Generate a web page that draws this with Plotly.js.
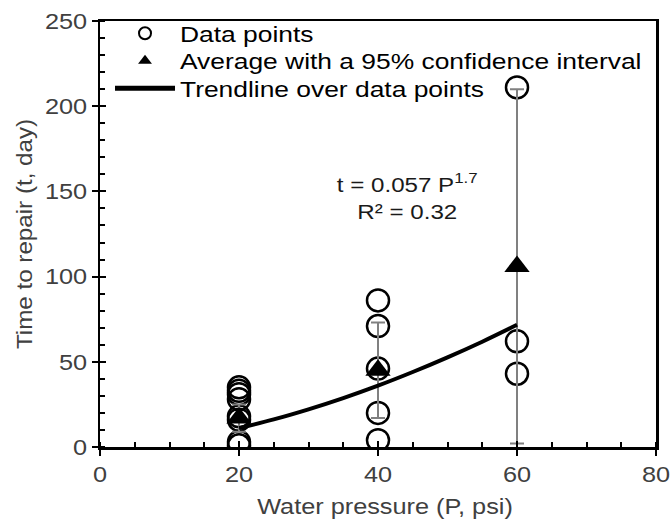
<!DOCTYPE html>
<html>
<head>
<meta charset="utf-8">
<script src="https://cdn.plot.ly/plotly-3.0.1.min.js"></script>
<style>body{margin:0;padding:0;background:#fff;}</style>
</head>
<body>
<div id="chart" style="width:670px;height:525px;"></div>
<script>
// Individual observations
const dataX = [20, 20, 20, 20, 20, 20, 20, 20, 40, 40, 40, 40, 40, 60, 60, 60];
const dataY = [35, 33, 31, 28, 18, 16, 3, 1, 86, 71, 46, 20, 4, 211, 62, 43];

// Averages with 95% confidence half-widths
const avgX = [20, 40, 60];
const avgY = [17, 45, 106];
const ciHalf = [8, 28, 104];

// Trendline
const trendX = [20, 25, 30, 35, 40, 45, 50, 55, 60];
const trendY = [11.1, 16.2, 22.1, 28.7, 36.0, 44.0, 52.6, 61.8, 71.7];

const xTicks = [0, 20, 40, 60, 80];
const yTicks = [0, 50, 100, 150, 200, 250];

const FONT = 'Liberation Sans, Arial, sans-serif';
const FS = 22;

const traces = [
  {
    x: dataX, y: dataY, type: 'scatter', mode: 'markers', name: 'Data points',
    marker: {symbol: 'circle-open', size: 22, color: '#000', line: {width: 2.5, color: '#000'}}
  },
  {
    x: avgX, y: avgY, type: 'scatter', mode: 'markers', name: 'Average with a 95% confidence interval',
    marker: {symbol: 'triangle-up', size: 22, color: '#000'},
    error_y: {type: 'data', array: ciHalf, visible: true, color: '#808080', thickness: 2, width: 7}
  },
  {
    x: trendX, y: trendY, type: 'scatter', mode: 'lines', name: 'Trendline over data points',
    line: {color: '#000', width: 4, shape: 'spline'}
  }
];

const axisCommon = {
  showgrid: false, zeroline: false, showline: true, linecolor: '#000', linewidth: 2.5,
  mirror: true, ticks: 'outside', ticklen: 6, tickwidth: 2, tickcolor: '#000',
  tickfont: {family: FONT, size: FS, color: '#404040'}
};

const layout = {
  width: 670, height: 525,
  margin: {l: 100, r: 14, t: 17, b: 78},
  paper_bgcolor: '#fff', plot_bgcolor: '#fff',
  showlegend: true,
  legend: {
    x: 0.018, y: 1.02, xanchor: 'left', yanchor: 'top', bgcolor: 'rgba(0,0,0,0)',
    font: {family: FONT, size: FS, color: '#000'}, itemsizing: 'constant',
    itemwidth: 60, tracegroupgap: 0
  },
  xaxis: Object.assign({}, axisCommon, {
    range: [0, 80], tickvals: xTicks, ticktext: xTicks.map(String),
    minor: {dtick: 5, ticks: 'inside', ticklen: 5, tickwidth: 2, tickcolor: '#000'},
    title: {text: 'Water pressure (P, psi)', font: {family: FONT, size: FS, color: '#404040'}, standoff: 13}
  }),
  yaxis: Object.assign({}, axisCommon, {
    range: [0, 250], tickvals: yTicks, ticktext: yTicks.map(String),
    minor: {dtick: 10, ticks: 'inside', ticklen: 5, tickwidth: 2, tickcolor: '#000'},
    title: {text: 'Time to repair (t, day)', font: {family: FONT, size: FS, color: '#404040'}, standoff: 12}
  }),
  xaxis2: {overlaying: 'x', anchor: 'y', range: [0, 80], tickvals: xTicks, showticklabels: false,
    ticks: 'inside', ticklen: 6, tickwidth: 2, tickcolor: '#000', showgrid: false, zeroline: false, showline: false},
  yaxis2: {overlaying: 'y', anchor: 'x', range: [0, 250], tickvals: yTicks, showticklabels: false,
    ticks: 'inside', ticklen: 6, tickwidth: 2, tickcolor: '#000', showgrid: false, zeroline: false, showline: false},
  annotations: [{
    xref: 'x', yref: 'y', x: 44.3, y: 147, showarrow: false,
    text: 't = 0.057 P<sup>1.7</sup><br>R² = 0.32',
    font: {family: FONT, size: 21, color: '#1a1a1a'}, align: 'center'
  }]
};

// invisible helper trace so the secondary axes render their inside ticks
traces.push({x: [0], y: [0], xaxis: 'x2', yaxis: 'y2', type: 'scatter', mode: 'markers',
  marker: {opacity: 0}, showlegend: false, hoverinfo: 'skip'});

const gd = document.getElementById('chart');

function stretchTexts() {
  // let the widened legend text show in full
  gd.querySelectorAll('.legend, .legend *').forEach(el => el.removeAttribute('clip-path'));
  gd.querySelectorAll('svg text').forEach(t => {
    if (!t.textContent.trim()) { t.remove(); return; }
    const r = t.getBoundingClientRect();
    const pm = t.parentNode.getScreenCTM();
    const T = t.getAttribute('transform') || '';
    if (t.classList.contains('ytitle')) {
      const cy = (r.top + r.bottom) / 2 - pm.f;
      t.setAttribute('transform', `translate(0,${cy}) scale(1,1.1) translate(0,${-cy}) ${T}`);
      return;
    }
    const inLegend = !!t.closest('.legend');
    const SX = inLegend ? 1.2 : 1.15;
    const dx = t.classList.contains('xtitle') ? 7 : 0;
    const anchor = t.getAttribute('text-anchor') || 'start';
    const sx = anchor === 'end' ? r.right : anchor === 'middle' ? (r.left + r.right) / 2 : r.left;
    const px = sx - pm.e;
    t.setAttribute('transform', `translate(${px + dx},0) scale(${SX},1) translate(${-px},0) ${T}`);
  });
  // tighten legend rows
  const items = gd.querySelectorAll('.legend .traces');
  let y0 = null;
  items.forEach((g, i) => {
    const m = /translate\(\s*([-\d.]+)[ ,]+([-\d.]+)\s*\)/.exec(g.getAttribute('transform') || '');
    if (!m) return;
    const x = parseFloat(m[1]);
    const y = parseFloat(m[2]);
    if (y0 === null) y0 = y;
    g.setAttribute('transform', `translate(${x},${y0 + i * 27.5})`);
  });
}

Plotly.newPlot(gd, traces, layout, {displayModeBar: false, staticPlot: true}).then(stretchTexts);
</script>
</body>
</html>
